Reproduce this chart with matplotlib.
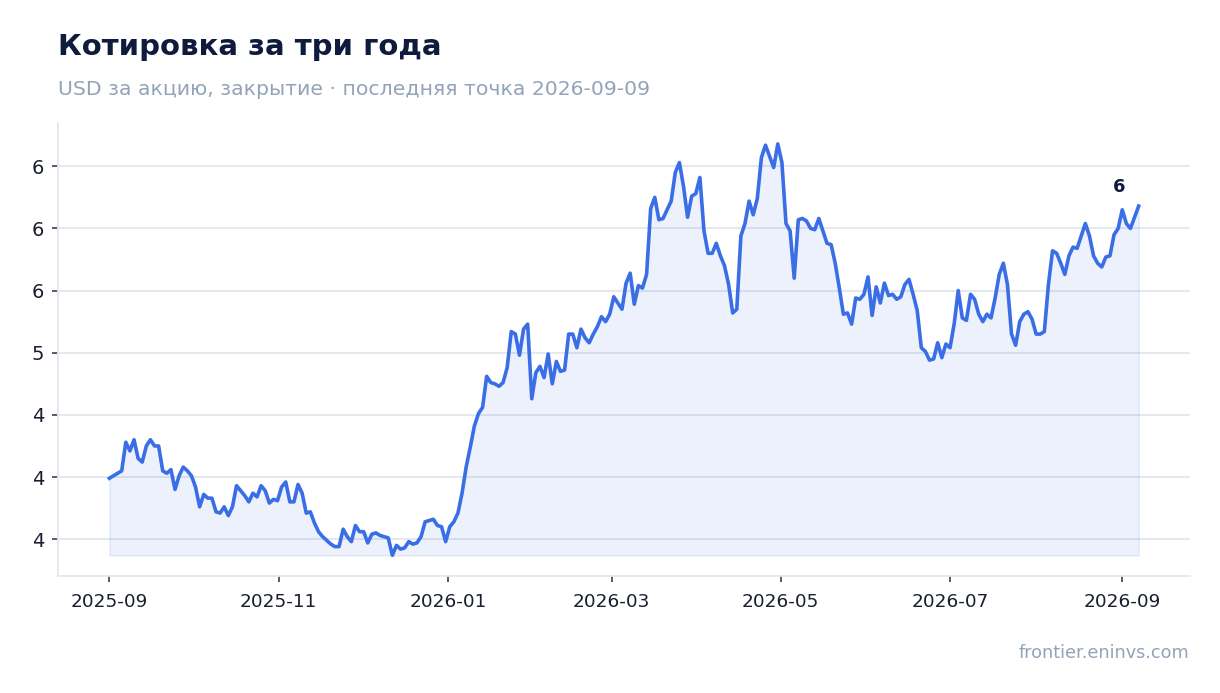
import matplotlib
matplotlib.use("Agg")
import matplotlib.pyplot as plt
import matplotlib.dates as mdates
from matplotlib.ticker import MultipleLocator, FuncFormatter
import numpy as np
import pandas as pd

# closing prices, USD per share
start_date = "2025-09-01"
end_date = "2026-09-07"
prices = [
    3.99, 4.01, 4.03, 4.05, 4.28, 4.21, 4.30, 4.15, 4.12, 4.25,
    4.30, 4.25, 4.25, 4.05, 4.03, 4.06, 3.90, 4.01, 4.08, 4.05,
    4.01, 3.92, 3.76, 3.86, 3.83, 3.83, 3.72, 3.71, 3.76, 3.69,
    3.76, 3.93, 3.89, 3.85, 3.80, 3.87, 3.84, 3.93, 3.89, 3.79, 3.82,
    3.81, 3.92, 3.96, 3.80, 3.80, 3.94, 3.87, 3.71, 3.72, 3.63,
    3.56, 3.52, 3.49, 3.46, 3.44, 3.44, 3.58, 3.52, 3.48, 3.61, 3.56,
    3.56, 3.47, 3.54,
    3.55, 3.53, 3.52, 3.51, 3.37, 3.45, 3.42, 3.43, 3.48,
    3.46, 3.47, 3.52, 3.64, 3.65, 3.66, 3.61, 3.60, 3.48,
    3.60, 3.64, 3.71, 3.87, 4.08, 4.24, 4.41, 4.51, 4.56, 4.81,
    4.76, 4.75, 4.73, 4.76, 4.88, 5.17, 5.15, 4.98, 5.19, 5.23,
    4.63, 4.84, 4.89, 4.80, 4.99, 4.75, 4.93, 4.85, 4.86, 5.15,
    5.15, 5.04, 5.19, 5.12, 5.08, 5.15, 5.21, 5.29, 5.25, 5.31,
    5.45, 5.40, 5.35, 5.56, 5.64, 5.39, 5.54, 5.52, 5.63, 6.16,
    6.25, 6.07, 6.08, 6.15, 6.22, 6.45, 6.53, 6.34, 6.09, 6.26,
    6.28, 6.41, 5.98, 5.80, 5.80, 5.88, 5.78, 5.70, 5.55, 5.32,
    5.35, 5.94, 6.04, 6.22, 6.11, 6.24, 6.57, 6.67, 6.58, 6.49,
    6.68, 6.53, 6.04, 5.98, 5.60, 6.07, 6.08, 6.06, 6.00, 5.99,
    6.08, 5.98, 5.88, 5.87, 5.72, 5.52, 5.31, 5.32, 5.23, 5.44,
    5.43, 5.47, 5.61, 5.30, 5.53, 5.40, 5.56, 5.46, 5.47, 5.43,
    5.45, 5.55, 5.59, 5.47, 5.34, 5.04, 5.01, 4.94, 4.95, 5.08,
    4.96, 5.07, 5.04, 5.23, 5.50, 5.28, 5.26, 5.47, 5.43, 5.31,
    5.25, 5.31, 5.28, 5.44, 5.63, 5.72, 5.55, 5.15, 5.06, 5.25,
    5.31, 5.33, 5.27, 5.15, 5.15, 5.17, 5.55, 5.82, 5.80, 5.72,
    5.63, 5.78, 5.85, 5.84, 5.94, 6.04, 5.94, 5.78, 5.72, 5.69,
    5.77, 5.78, 5.95, 6.00, 6.15, 6.04, 6.00, 6.09, 6.18,
]

title = "Котировка за три года"
subtitle = "USD за акцию, закрытие · последняя точка 2026-09-09"
footer = "frontier.eninvs.com"

dates = pd.date_range(start_date, end_date, periods=len(prices))
prices = np.array(prices)

line_col = "#3a6ee6"
navy = "#0f1b3d"
grey = "#94a3b8"
grid_col = "#e2e6ef"

fig = plt.figure(figsize=(12.2, 6.93), dpi=100)
ax = fig.add_axes([0.0475, 0.169, 0.928, 0.653])

ax.fill_between(dates, prices, prices.min(), facecolor=(0.23, 0.43, 0.90, 0.09),
                edgecolor=(0.23, 0.43, 0.90, 0.12), lw=1, zorder=1)
ax.plot(dates, prices, color=line_col, lw=2.6, zorder=3)

# last value label
ax.annotate(f"{prices[-1]:.0f}", (dates[-1], prices[-1]), xytext=(-14, 14),
            textcoords="offset points", ha="center", va="center",
            fontsize=13, fontweight="bold", color=navy)

ax.yaxis.set_major_locator(MultipleLocator(0.5))
ax.yaxis.set_major_formatter(FuncFormatter(lambda v, _: f"{v:.0f}"))
ax.xaxis.set_major_locator(mdates.MonthLocator(bymonth=[1, 3, 5, 7, 9, 11]))
ax.xaxis.set_major_formatter(mdates.DateFormatter("%Y-%m"))

ax.grid(axis="y", color=grid_col, lw=1.3, zorder=0)
ax.set_axisbelow(True)
for s in ["top", "right"]:
    ax.spines[s].set_visible(False)
for s in ["left", "bottom"]:
    ax.spines[s].set_color(grid_col)
    ax.spines[s].set_linewidth(1.3)
ax.tick_params(axis="both", colors="#3a3f4b", length=4, width=1.2, labelcolor="#1a1f2e")
ax.tick_params(axis="y", labelsize=14, pad=6)
ax.tick_params(axis="x", labelsize=13.3, pad=8)

fig.text(0.0475, 0.921, title, fontsize=21, fontweight="bold", color=navy, va="baseline")
fig.text(0.0475, 0.863, subtitle, fontsize=14.7, color=grey, va="baseline")
fig.text(0.9746, 0.050, footer, fontsize=12.7, color=grey, ha="right", va="baseline")

fig.savefig("out.png", dpi=100)
